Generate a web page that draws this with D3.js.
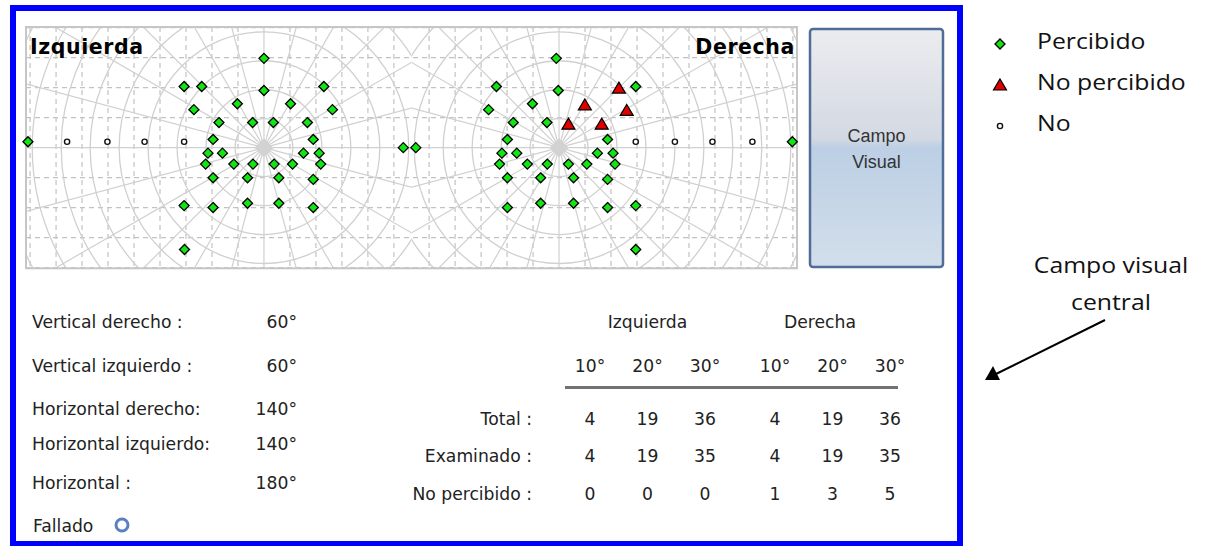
<!DOCTYPE html>
<html><head><meta charset="utf-8">
<script src="https://cdn.jsdelivr.net/npm/d3@7"></script>
<style>
html,body{margin:0;padding:0;background:#fff;}
svg{display:block;}
</style></head><body>
<svg id="chart" width="1208" height="546"></svg>
<script>
// ---- Data: test points in degrees, relative to each eye's fixation point ----
const eyeCentres = [-37.7, 37.7];           // fixation points, degrees from field centre
const leftSeen = [[0,22.8],[-20.4,15.6],[-15.9,15.6],[15.3,15.6],[0,14.6],[-6.8,11.2],[6.8,11.2],
  [-17.9,9.7],[17.5,9.7],[-11.5,6.4],[-2.9,6.4],[2.4,6.4],[11.1,6.4],[-13.0,2.1],[12.6,2.1],
  [-14.3,-1.4],[-10.6,-1.4],[10.1,-1.4],[14.1,-1.4],[-14.9,-4.2],[-7.7,-4.2],[-2.8,-4.2],[2.6,-4.2],
  [7.3,-4.2],[14.5,-4.2],[-13.0,-7.7],[-4.2,-7.7],[3.8,-7.7],[12.6,-8.1],[-20.4,-14.8],[-13.0,-15.3],
  [-4.2,-14.2],[3.8,-14.2],[12.6,-15.3],[-20.3,-26.0],[-60.3,1.5]];
const leftUntested = [[-50.3,1.5],[-40.0,1.5],[-30.5,1.5],[-20.4,1.5]];
const rightSeen = [[-0.7,22.8],[-16.0,15.6],[-0.2,14.6],[19.6,15.6],[-18.0,9.7],[-6.8,11.2],
  [-11.7,6.4],[-3.1,6.4],[-13.2,2.1],[12.4,2.1],[-14.6,-1.4],[-10.8,-1.4],[9.8,-1.4],[13.8,-1.4],
  [-15.2,-4.2],[-8.1,-4.2],[-3.0,-4.2],[2.4,-4.2],[7.1,-4.2],[14.3,-4.2],[-13.2,-7.7],[-4.7,-7.7],
  [3.7,-7.7],[12.4,-8.1],[-13.2,-15.3],[-4.7,-14.2],[3.7,-14.2],[12.4,-15.3],[19.6,-14.8],
  [19.6,-26.0],[59.6,1.5]];
const rightMissed = [[15.3,15.2],[6.6,10.9],[17.3,9.5],[2.4,6.0],[10.9,6.0]];
const rightUntested = [[19.6,1.5],[29.6,1.5],[39.2,1.5],[49.4,1.5]];
const binocularSeen = [[-2.1,0],[1.1,0]];   // degrees from field centre

// Summary figures
const summaryLabels = ["Vertical derecho :","Vertical izquierdo :","Horizontal derecho:","Horizontal izquierdo:","Horizontal :"];
const summaryValues = [60,60,140,140,180];

// Count table
const tableGroups = ["Izquierda","Derecha"];
const tableCols = ["10°","20°","30°"];
const rowLabels = ["Total :","Examinado :","No percibido :"];
const totalRow = [4,19,36,4,19,36];
const examinedRow = [4,19,35,4,19,35];
const missedRow = [0,0,0,1,3,5];

const legendLabels = ["Percibido","No percibido","No"];

// ---- Layout ----
const svg = d3.select("#chart");
const plot = {x0:26, x1:797, y0:27, y1:268.3};
const x = d3.scaleLinear().domain([-98.5,98.5]).range([plot.x0, plot.x1]);
const y = d3.scaleLinear().domain([-30.8,30.8]).range([plot.y1, plot.y0]);
const ringStep = 7.4, dashStepX = 6.64, dashStepY = 7.66;

const green = "#12e612", red = "#e00000";
const diamond = r => `M0,${-r}L${r},0L0,${r}L${-r},0Z`;
const triangle = `M0,-6L6.5,5L-6.5,5Z`;

// Blue outer frame
svg.append("rect").attr("x",13).attr("y",8).attr("width",947).attr("height",536)
  .attr("fill","none").attr("stroke","#0000ff").attr("stroke-width",6);

// Clip each eye's half of the field
const defs = svg.append("defs");
const mid = x(0);
[[plot.x0, mid],[mid, plot.x1]].forEach((r,i)=>{
  defs.append("clipPath").attr("id","half"+i).append("rect")
    .attr("x",r[0]).attr("y",plot.y0).attr("width",r[1]-r[0]).attr("height",plot.y1-plot.y0);
});

const grid = svg.append("g");
eyeCentres.forEach((c,i)=>{
  const g = grid.append("g").attr("clip-path",`url(#half${i})`);
  const cx = x(c), cy = y(0);
  // dashed rectangular grid
  const vx = d3.range(-16,17).map(k=>c+k*dashStepX).filter(v=>v!==c);
  g.selectAll("line.dv").data(vx).join("line")
    .attr("x1",d=>x(d)).attr("x2",d=>x(d)).attr("y1",plot.y0).attr("y2",plot.y1)
    .attr("stroke","#c2c2c2").attr("stroke-width",1.2).attr("stroke-dasharray","5,4");
  const hy = d3.range(-4,5).filter(k=>k!==0).map(k=>k*dashStepY);
  g.selectAll("line.dh").data(hy).join("line")
    .attr("x1",plot.x0).attr("x2",plot.x1).attr("y1",d=>y(d)).attr("y2",d=>y(d))
    .attr("stroke","#c2c2c2").attr("stroke-width",1.2).attr("stroke-dasharray","5,4");
  // concentric rings
  g.selectAll("circle.ring").data(d3.range(1,11)).join("circle")
    .attr("cx",cx).attr("cy",cy).attr("r",k=>x(k*ringStep)-x(0))
    .attr("fill","none").attr("stroke","#d0d0d0").attr("stroke-width",1.3);
  // meridians every 15 degrees
  g.selectAll("line.mer").data(d3.range(0,360,15)).join("line")
    .attr("x1",cx).attr("y1",cy)
    .attr("x2",a=>cx+420*Math.cos(a*Math.PI/180)).attr("y2",a=>cy-420*Math.sin(a*Math.PI/180))
    .attr("stroke","#d0d0d0").attr("stroke-width",1.2);
  // fixation marker
  g.append("path").attr("d",diamond(9.5)).attr("transform",`translate(${cx},${cy})`).attr("fill","#d2d2d2");
});

// Field border
svg.append("rect").attr("x",plot.x0).attr("y",plot.y0).attr("width",plot.x1-plot.x0).attr("height",plot.y1-plot.y0)
  .attr("fill","none").attr("stroke","#c6c6c6").attr("stroke-width",2);

// Eye titles
svg.append("text").attr("x",30).attr("y",54).text("Izquierda").attr("letter-spacing",0.6)
  .attr("font-family","DejaVu Sans").attr("font-weight","bold").attr("font-size",20.5);
svg.append("text").attr("x",795).attr("y",54).attr("text-anchor","end").text("Derecha").attr("letter-spacing",0.6)
  .attr("font-family","DejaVu Sans").attr("font-weight","bold").attr("font-size",20.5);

// ---- Test points ----
const pts = svg.append("g");
function place(list, centre){ return list.map(d=>({px:x(centre+d[0]), py:y(d[1])})); }
const seen = [...place(leftSeen,eyeCentres[0]), ...place(rightSeen,eyeCentres[1]), ...place(binocularSeen,0)];
pts.selectAll("path.seen").data(seen).join("path")
  .attr("d",diamond(5)).attr("transform",d=>`translate(${d.px},${d.py})`)
  .attr("fill",green).attr("stroke","#000").attr("stroke-width",1.3);
const untested = [...place(leftUntested,eyeCentres[0]), ...place(rightUntested,eyeCentres[1])];
pts.selectAll("circle.un").data(untested).join("circle")
  .attr("cx",d=>d.px).attr("cy",d=>d.py).attr("r",2.6)
  .attr("fill","#fff").attr("stroke","#111").attr("stroke-width",1.4);
pts.selectAll("path.miss").data(place(rightMissed,eyeCentres[1])).join("path")
  .attr("d",triangle).attr("transform",d=>`translate(${d.px},${d.py})`)
  .attr("fill",red).attr("stroke","#000").attr("stroke-width",1.2);

// ---- "Campo Visual" button ----
const grad = defs.append("linearGradient").attr("id","btn").attr("x1",0).attr("y1",0).attr("x2",0).attr("y2",1);
[[0,"#ececef"],[0.46,"#d3d9e3"],[0.5,"#bccfe4"],[1,"#d2deeb"]].forEach(s=>
  grad.append("stop").attr("offset",s[0]).attr("stop-color",s[1]));
svg.append("rect").attr("x",810).attr("y",29).attr("width",133).attr("height",238).attr("rx",3)
  .attr("fill","url(#btn)").attr("stroke","#4f6d96").attr("stroke-width",2.5);
svg.append("text").attr("x",876.5).attr("y",141.5).attr("text-anchor","middle").text("Campo")
  .attr("font-family","Liberation Sans").attr("font-size",18).attr("fill","#333");
svg.append("text").attr("x",876.5).attr("y",167.5).attr("text-anchor","middle").text("Visual")
  .attr("font-family","Liberation Sans").attr("font-size",18).attr("fill","#333");

// ---- Summary block ----
const txt = {"font-family":"DejaVu Sans","font-size":17.2,"fill":"#222"};
function styled(sel){ Object.entries(txt).forEach(([k,v])=>sel.attr(k,v)); return sel; }
const sumY = [328.3,371.7,415,450,489.3];
styled(svg.append("g").selectAll("text").data(summaryLabels).join("text")
  .attr("x",32).attr("y",(d,i)=>sumY[i]).text(d=>d));
styled(svg.append("g").selectAll("text").data(summaryValues).join("text")
  .attr("x",297).attr("y",(d,i)=>sumY[i]).attr("text-anchor","end").text(d=>d+"°"));
styled(svg.append("text").attr("x",33).attr("y",531.5).text("Fallado"));
svg.append("circle").attr("cx",122).attr("cy",525).attr("r",6)
  .attr("fill","#fff").attr("stroke","#5a7fc4").attr("stroke-width",3);

// ---- Count table ----
const colX = g => d3.scalePoint().domain(tableCols).range(g===0?[590,705]:[775,890]);
const colCentres = [0,1].flatMap(g=>tableCols.map(c=>colX(g)(c)));
const headerX = [647.5, 820];
styled(svg.append("g").selectAll("text").data(tableGroups).join("text")
  .attr("x",(d,i)=>headerX[i]).attr("y",328.3).attr("text-anchor","middle").text(d=>d));
styled(svg.append("g").selectAll("text").data(colCentres).join("text")
  .attr("x",d=>d).attr("y",371.7).attr("text-anchor","middle").text((d,i)=>tableCols[i%3]));
svg.append("line").attr("x1",565).attr("x2",898).attr("y1",387.5).attr("y2",387.5)
  .attr("stroke","#727272").attr("stroke-width",3);
const rows = [totalRow, examinedRow, missedRow];
const rowY = [425, 461.7, 500];
styled(svg.append("g").selectAll("text").data(rowLabels).join("text")
  .attr("x",532).attr("y",(d,i)=>rowY[i]).attr("text-anchor","end").text(d=>d));
rows.forEach((r,ri)=>{
  styled(svg.append("g").selectAll("text").data(r).join("text")
    .attr("x",(d,i)=>colCentres[i]).attr("y",rowY[ri]).attr("text-anchor","middle").text(d=>d));
});

// ---- Legend ----
const leg = svg.append("g");
const legY = [44, 85, 126];
const legendMarks = [
  s=>s.append("path").attr("d",diamond(5)).attr("fill",green).attr("stroke","#000").attr("stroke-width",1.3),
  s=>s.append("path").attr("d",triangle).attr("fill",red).attr("stroke","#000").attr("stroke-width",1.2),
  s=>s.append("circle").attr("r",2.6).attr("fill","#fff").attr("stroke","#111").attr("stroke-width",1.4)
];
legendLabels.forEach((l,i)=>{
  legendMarks[i](leg.append("g").attr("transform",`translate(1000,${legY[i]})`));
  leg.append("text").attr("transform",`translate(1037,${legY[i]+5}) scale(1.18,1)`).text(l)
    .attr("font-family","Open Sans").attr("font-size",21).attr("fill","#111");
});

// ---- Annotation ----
const ann = svg.append("g").attr("font-family","Open Sans").attr("font-size",21).attr("fill","#111");
ann.append("text").attr("transform","translate(1111,273) scale(1.18,1)").attr("text-anchor","middle").text("Campo visual");
ann.append("text").attr("transform","translate(1111,310) scale(1.18,1)").attr("text-anchor","middle").text("central");
svg.append("line").attr("x1",1105).attr("y1",320).attr("x2",996).attr("y2",374)
  .attr("stroke","#000").attr("stroke-width",2);
svg.append("path").attr("d","M985,380L993,366L1000,380Z").attr("fill","#000");
</script>
</body></html>
